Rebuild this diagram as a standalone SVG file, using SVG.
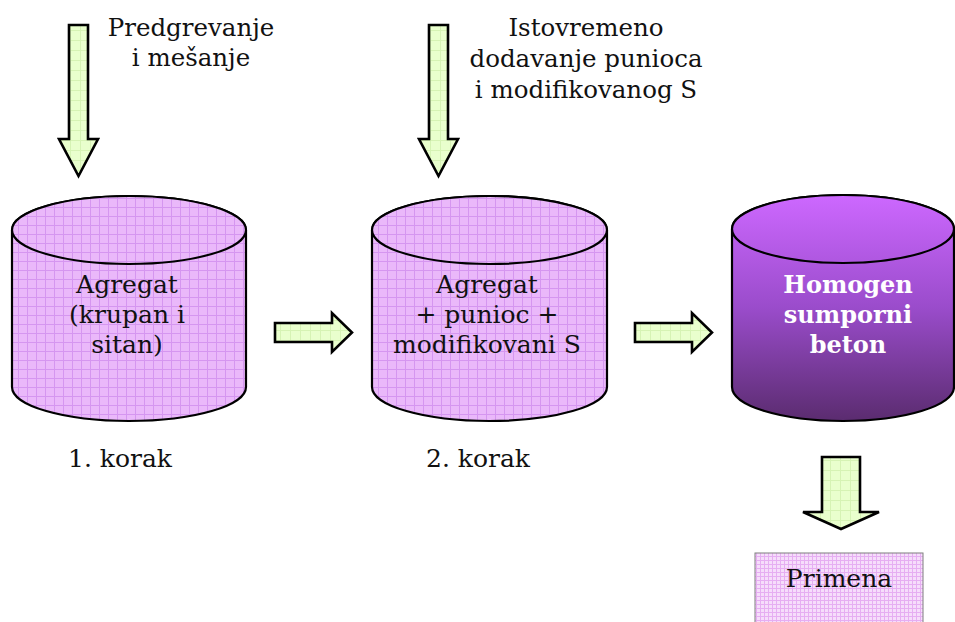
<svg xmlns="http://www.w3.org/2000/svg" width="955" height="622" viewBox="0 0 955 622">
  <style>
    .lbl { font-family: "DejaVu Serif", "Liberation Serif", serif; font-size: 25px; fill: #111; text-anchor: middle; }
    .top { font-size: 24.5px; }
    .bold { font-weight: bold; fill: #ffffff; font-size: 24px; }
    .edge { stroke: #000; stroke-width: 2.2; stroke-linejoin: miter; }
    .arrow { fill: url(#greenGrid); stroke: #000; stroke-width: 2.6; }
  </style>
  <defs>
    <pattern id="violetGrid" patternUnits="userSpaceOnUse" width="9" height="9">
      <rect width="9" height="9" fill="#EAB8FA"/>
      <path d="M0,0.5 H9 M0.5,0 V9" stroke="#D596F0" stroke-width="1"/>
    </pattern>
    <pattern id="pinkGrid" patternUnits="userSpaceOnUse" width="4" height="4">
      <rect width="4" height="4" fill="#F6DDFB"/>
      <path d="M0,0.5 H4 M0.5,0 V4" stroke="#E6AEF2" stroke-width="1"/>
    </pattern>
    <pattern id="greenGrid" patternUnits="userSpaceOnUse" width="10" height="10">
      <rect width="10" height="10" fill="#E9FFCD"/>
      <path d="M0,0.5 H10 M0.5,0 V10" stroke="#D6F3B4" stroke-width="1"/>
    </pattern>
    <linearGradient id="darkViolet" gradientUnits="userSpaceOnUse" x1="0" y1="195" x2="0" y2="420">
      <stop offset="0" stop-color="#CD68FF"/>
      <stop offset="0.5" stop-color="#9A4CCB"/>
      <stop offset="1" stop-color="#5B2C70"/>
    </linearGradient>
  </defs>

  <!-- feed labels -->
  <g id="label-preheat">
    <text class="lbl top" x="191" y="36">Predgrevanje</text>
    <text class="lbl top" x="191" y="66">i mešanje</text>
  </g>
  <g id="label-addition">
    <text class="lbl top" x="586" y="36">Istovremeno</text>
    <text class="lbl top" x="586" y="67">dodavanje punioca</text>
    <text class="lbl top" x="586" y="98">i modifikovanog S</text>
  </g>

  <!-- tank 1 -->
  <g id="tank-aggregate">
    <path class="edge" fill="url(#violetGrid)" d="M12,230 V387 A117,34 0 0 0 246,387 V230 A117,34 0 0 0 12,230 Z"/>
    <ellipse class="edge" fill="url(#violetGrid)" cx="129" cy="230" rx="117" ry="34"/>
    <text class="lbl" x="127" y="293">Agregat</text>
    <text class="lbl" x="127" y="323">(krupan i</text>
    <text class="lbl" x="127" y="353">sitan)</text>
  </g>

  <!-- tank 2 -->
  <g id="tank-mix">
    <path class="edge" fill="url(#violetGrid)" d="M372,230 V387 A117.5,34 0 0 0 607,387 V230 A117.5,34 0 0 0 372,230 Z"/>
    <ellipse class="edge" fill="url(#violetGrid)" cx="489.5" cy="230" rx="117.5" ry="34"/>
    <text class="lbl" x="487" y="293">Agregat</text>
    <text class="lbl" x="487" y="323">+ punioc +</text>
    <text class="lbl" x="487" y="353">modifikovani S</text>
  </g>

  <!-- tank 3 -->
  <g id="tank-concrete">
    <path class="edge" fill="url(#darkViolet)" d="M732,229 V387 A111,34 0 0 0 954,387 V229 A111,34 0 0 0 732,229 Z"/>
    <ellipse class="edge" fill="url(#darkViolet)" cx="843" cy="229" rx="111" ry="34"/>
    <text class="lbl bold" x="848" y="293">Homogen</text>
    <text class="lbl bold" x="848" y="323">sumporni</text>
    <text class="lbl bold" x="848" y="353">beton</text>
  </g>

  <!-- step captions -->
  <g id="step-1"><text class="lbl" x="120" y="467">1. korak</text></g>
  <g id="step-2"><text class="lbl" x="478" y="467">2. korak</text></g>

  <!-- application box -->
  <g id="application">
    <rect x="755" y="553" width="168" height="80" fill="url(#pinkGrid)" stroke="#7F7F7F" stroke-width="1"/>
    <text class="lbl" x="839" y="587">Primena</text>
  </g>

  <!-- block arrows -->
  <g id="connectors">
    <path class="arrow" d="M69,25 H88 V139 H98 L78.5,176 L59,139 H69 Z"/>
    <path class="arrow" d="M429,25 H448 V139 H458 L438.5,176 L419,139 H429 Z"/>
    <path class="arrow" d="M275,323 H332 V313 L352,332.5 L332,352 V342 H275 Z"/>
    <path class="arrow" d="M635,323 H692 V313 L712,332.5 L692,352 V342 H635 Z"/>
    <path class="arrow" d="M822,457 H860 V512 H879 L841,529 L803,512 H822 Z"/>
  </g>
</svg>
